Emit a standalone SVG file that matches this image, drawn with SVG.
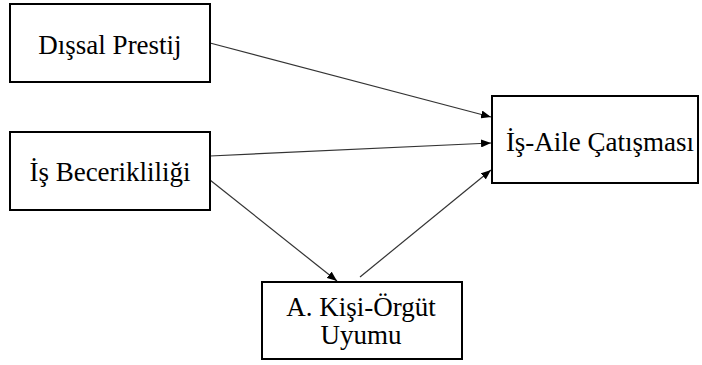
<svg xmlns="http://www.w3.org/2000/svg" width="702" height="365" viewBox="0 0 702 365">
<style>
.box{fill:#fff;stroke:#000;stroke-width:2}
.lbl{font-family:"Liberation Serif","Times New Roman",serif;font-size:27px;fill:#000;text-anchor:middle}
.edge{stroke:#333;stroke-width:1.2;fill:none}
</style>
<defs>
<marker id="ah" viewBox="0 0 10 8" refX="10" refY="4" markerWidth="10" markerHeight="8" markerUnits="userSpaceOnUse" orient="auto">
<path d="M0,0 L10,4 L0,8 z" fill="#000"/>
</marker>
</defs>
<rect width="702" height="365" fill="#fff"/>
<g id="connectors">
<line class="edge" x1="210" y1="43" x2="491" y2="117" marker-end="url(#ah)"/>
<line class="edge" x1="210" y1="156" x2="491" y2="143" marker-end="url(#ah)"/>
<line class="edge" x1="210" y1="180" x2="337" y2="281" marker-end="url(#ah)"/>
<line class="edge" x1="360" y1="277" x2="491" y2="170" marker-end="url(#ah)"/>
</g>
<g id="dissal-prestij">
<rect class="box" x="10" y="4" width="200" height="78"/>
<text class="lbl" x="110" y="54">Dışsal Prestij</text>
</g>
<g id="is-becerikliligi">
<rect class="box" x="10" y="132" width="200" height="78"/>
<text class="lbl" x="110" y="181">İş Becerikliliği</text>
</g>
<g id="is-aile-catismasi">
<rect class="box" x="492" y="96" width="206" height="87"/>
<text class="lbl" x="600" y="151">İş-Aile Çatışması</text>
</g>
<g id="kisi-orgut-uyumu">
<rect class="box" x="262" y="282" width="200" height="77"/>
<text class="lbl" x="361" y="316">A. Kişi-Örgüt</text>
<text class="lbl" x="361" y="344">Uyumu</text>
</g>
</svg>
